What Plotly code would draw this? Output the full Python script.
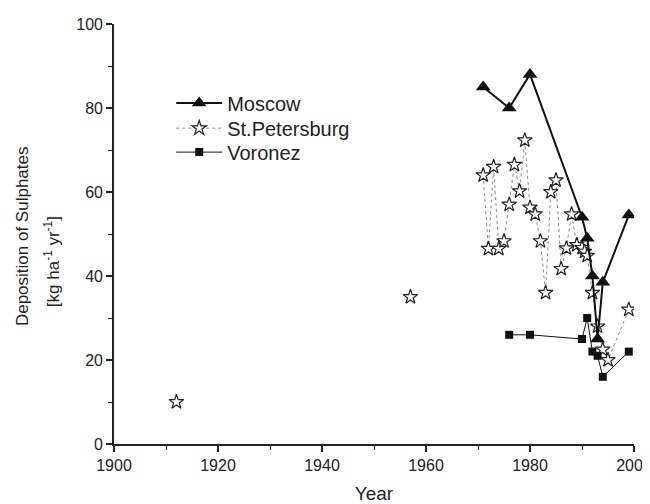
import plotly.graph_objects as go

# Moscow
moscow_years = [1971, 1976, 1980, 1990, 1991, 1992, 1993, 1994, 1999]
moscow_vals = [85, 80, 88, 54, 49, 40, 25, 38.5, 54.5]

# St. Petersburg (None = gap in the line)
spb_years = [1912, None, 1957, None, 1971, 1972, 1973, 1974, 1975, 1976, 1977, 1978,
             1979, 1980, 1981, 1982, 1983, 1984, 1985, 1986, 1987, 1988, 1989,
             1990, 1990.5, 1991, 1992, 1993, 1994, 1995, 1999]
spb_vals = [10, None, 35, None, 64, 46.5, 66, 46.5, 48.3, 57, 66.5, 60.2,
            72.3, 56.3, 54.7, 48.3, 36, 60, 62.8, 41.7, 46.6, 54.7, 47.4,
            46.7, 45.8, 44.8, 36, 28, 22.5, 20, 32]

# Voronez
voronez_years = [1976, 1980, 1990, 1991, 1992, 1993, 1994, 1999]
voronez_vals = [26, 26, 25, 30, 22, 21, 16, 22]

y_title_lines = ["Deposition of Sulphates", "[kg ha<sup>-1</sup> yr<sup>-1</sup>]"]

FONT = "Liberation Sans, Arial, sans-serif"

fig = go.Figure()

fig.add_trace(go.Scatter(
    x=spb_years, y=spb_vals, name="St.Petersburg", mode="lines+markers",
    connectgaps=False, legend="legend2",
    line=dict(color="#8a8a8a", width=1, dash="dot"),
    marker=dict(symbol="star", size=11, color="white",
                line=dict(color="#222222", width=1.2)),
))
fig.add_trace(go.Scatter(
    x=voronez_years, y=voronez_vals, name="Voronez", mode="lines+markers",
    legend="legend3",
    line=dict(color="#111111", width=1),
    marker=dict(symbol="square", size=8, color="#111111"),
))
fig.add_trace(go.Scatter(
    x=moscow_years, y=moscow_vals, name="Moscow", mode="lines+markers",
    legend="legend",
    line=dict(color="#111111", width=2),
    marker=dict(symbol="triangle-up", size=13, color="#111111"),
))

axis_common = dict(
    showgrid=False, zeroline=False, showline=True, linecolor="#222222",
    linewidth=1.6, ticks="outside", ticklen=6, tickwidth=1.5, tickcolor="#222222",
    tickfont=dict(family=FONT, size=16, color="#222222"),
    ticklabeloverflow="allow", automargin=False,
)

fig.update_xaxes(
    range=[1900, 2000], dtick=20, tick0=1900,
    minor=dict(dtick=10, ticks="outside", ticklen=4, tickwidth=1.2, tickcolor="#222222"),
    title=dict(text="Year", font=dict(family=FONT, size=19, color="#222222"), standoff=14),
    **axis_common,
)
fig.update_yaxes(
    range=[0, 100], dtick=20, tick0=0,
    minor=dict(dtick=10, ticks="outside", ticklen=4, tickwidth=1.2, tickcolor="#222222"),
    **axis_common,
)

for line_text, shift, ypos in zip(y_title_lines, [-92, -62], [0.495, 0.433]):
    fig.add_annotation(
        text=line_text, xref="paper", yref="paper", x=0, y=ypos,
        xshift=shift, xanchor="center", yanchor="middle", textangle=-90,
        showarrow=False, font=dict(family=FONT, size=17, color="#222222"),
    )

legend_style = dict(x=0.11, xanchor="left", yanchor="middle",
                    bgcolor="rgba(0,0,0,0)", borderwidth=0,
                    font=dict(family=FONT, size=20, color="#222222"),
                    itemwidth=46)

fig.update_layout(
    width=650, height=504,
    margin=dict(l=106, r=24, t=16, b=68),
    paper_bgcolor="white", plot_bgcolor="white",
    showlegend=True,
    legend=dict(y=0.812, **legend_style),
    legend2=dict(y=0.752, **legend_style),
    legend3=dict(y=0.695, **legend_style),
)

fig.write_html("out.html")
